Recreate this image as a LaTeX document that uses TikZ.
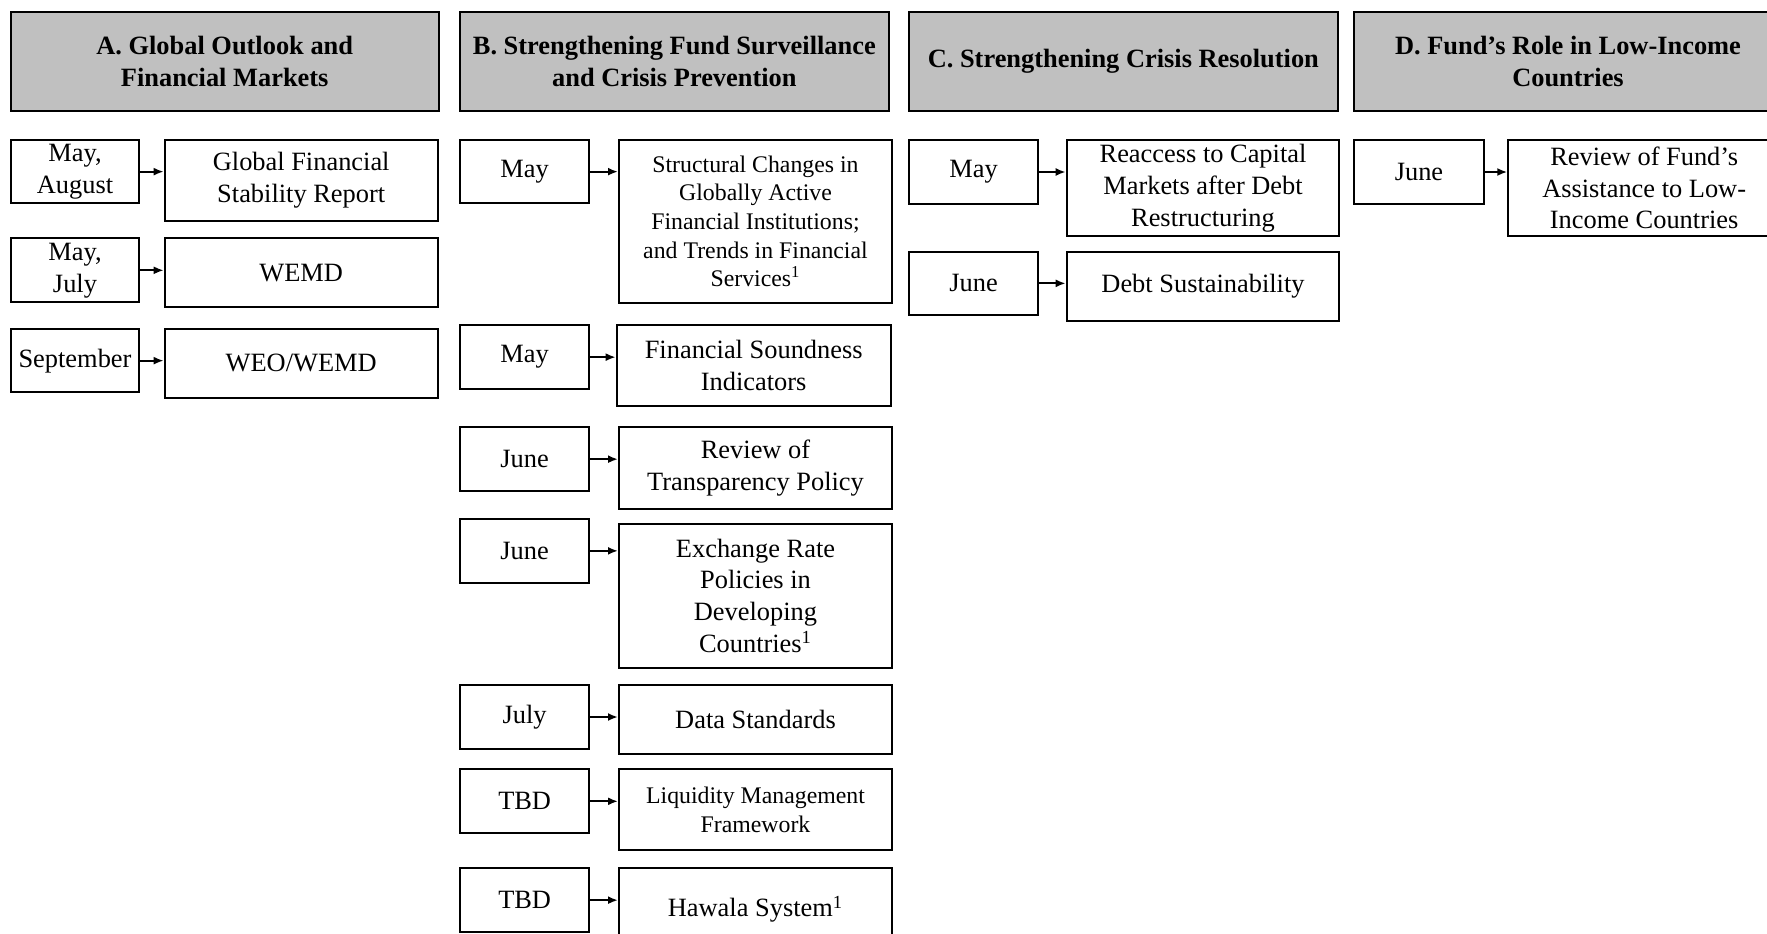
\documentclass[tikz,border=0pt]{standalone}
\usepackage{fontspec}
\setmainfont{Liberation Serif}
\usepackage{tikz}
\usetikzlibrary{arrows.meta, calc}

\definecolor{hdrgray}{RGB}{192,192,192}
\newcommand{\txtfont}{\fontsize{13.2}{15.9}\selectfont}
\newcommand{\smfont}{\fontsize{11.9}{14.3}\selectfont}
\newcommand{\hdfont}{\fontsize{13.2}{16}\selectfont\bfseries}

\tikzset{
  frame/.style={draw, line width=1pt, inner sep=0pt, align=center, font=\txtfont},
  head/.style={frame, fill=hdrgray, font=\hdfont},
  smalltext/.style={font=\smfont},
  % box given by its two corners (x1,y1,x2,y2), in pixels
  cell/.style n args={4}{at={({(#1+#3)/2},{(#2+#4)/2})},
    minimum width={(#3-#1)*.5pt}, minimum height={(#4-#2)*.5pt}},
  link/.style={->, line width=1pt},
}

\begin{document}
\begin{tikzpicture}[>={Latex[length=5pt,width=4pt]}, line join=miter, x=.5pt, y=-.5pt]
  \useasboundingbox (0,0) rectangle (1767,933);
  \clip (0,0) rectangle (1767,933);
%%
  % Node: headers
  \node[head, cell={10.7}{12}{438.7}{111}] (hA) {A. Global Outlook and\\Financial Markets};
  \node[head, cell={460}{12}{888.7}{111}] (hB) {B. Strengthening Fund Surveillance\\and Crisis Prevention};
  \node[head, cell={909}{12}{1337.7}{111}] (hC) {C. Strengthening Crisis Resolution};
  \node[head, cell={1354}{12}{1782}{111}] (hD) {D. Fund’s Role in Low-Income\\Countries};
  % Node: column A
  \node[frame, cell={10.7}{140}{139.3}{203.3}] (dA1) {May,\\August};
  \node[frame, cell={164.7}{140}{437.7}{220.7}] (tA1) {Global Financial\\Stability Report};
  \node[frame, cell={10.7}{238.3}{139.3}{302.3}] (dA2) {May,\\July};
  \node[frame, cell={164.7}{238.3}{437.7}{307.3}] (tA2) {WEMD};
  \node[frame, cell={10.7}{329}{139.3}{392.3}] (dA3) {September};
  \node[frame, cell={164.7}{329}{437.7}{397.7}] (tA3) {WEO/WEMD};
  % Node: column B
  \node[frame, cell={460}{140}{589.3}{203.3}] (dB1) {May};
  \node[frame, smalltext, cell={619}{140}{892}{302.7}] (tB1) {Structural Changes in\\Globally Active\\Financial Institutions;\\and Trends in Financial\\Services\textsuperscript{1}};
  \node[frame, cell={460}{325}{589.3}{389.3}] (dB2) {May};
  \node[frame, cell={616.7}{325}{890.7}{406}] (tB2) {Financial Soundness\\Indicators};
  \node[frame, cell={460}{427.3}{589.3}{491}] (dB3) {June};
  \node[frame, cell={619}{427.3}{892}{508.7}] (tB3) {Review of\\Transparency Policy};
  \node[frame, cell={460}{519}{589.3}{582.7}] (dB4) {June};
  \node[frame, cell={619}{524}{892}{667.7}] (tB4) {Exchange Rate\\Policies in\\Developing\\Countries\textsuperscript{1}};
  \node[frame, cell={460}{685}{589.3}{749}] (dB5) {July};
  \node[frame, cell={619}{685}{892}{753.7}] (tB5) {Data Standards};
  \node[frame, cell={460}{769.3}{589.3}{833.3}] (dB6) {TBD};
  \node[frame, smalltext, cell={619}{769.3}{892}{850}] (tB6) {Liquidity Management\\Framework};
  \node[frame, cell={460}{868.3}{589.3}{932}] (dB7) {TBD};
  \node[frame, cell={619}{868.3}{892}{950}] (tB7) {Hawala System\textsuperscript{1}};
  % Node: column C
  \node[frame, cell={909}{140}{1038.3}{204}] (dC1) {May};
  \node[frame, cell={1066.7}{140}{1339.3}{236}] (tC1) {Reaccess to Capital\\Markets after Debt\\Restructuring};
  \node[frame, cell={909}{251.7}{1038.3}{315}] (dC2) {June};
  \node[frame, cell={1066.7}{251.7}{1339.3}{321}] (tC2) {Debt Sustainability};
  % Node: column D
  \node[frame, cell={1354}{140}{1484}{204}] (dD1) {June};
  \node[frame, cell={1508.3}{140}{1780}{236}] (tD1) {Review of Fund’s\\Assistance to Low-\\Income Countries};
%%
  % Edge: date -> topic
  \foreach \d/\t in {dA1/tA1, dA2/tA2, dA3/tA3, dB1/tB1, dB2/tB2, dB3/tB3, dB4/tB4,
                     dB5/tB5, dB6/tB6, dB7/tB7, dC1/tC1, dC2/tC2, dD1/tD1}
    \draw [link] (\d.east) -- (\d.east -| \t.west);
%
\end{tikzpicture}
\end{document}
